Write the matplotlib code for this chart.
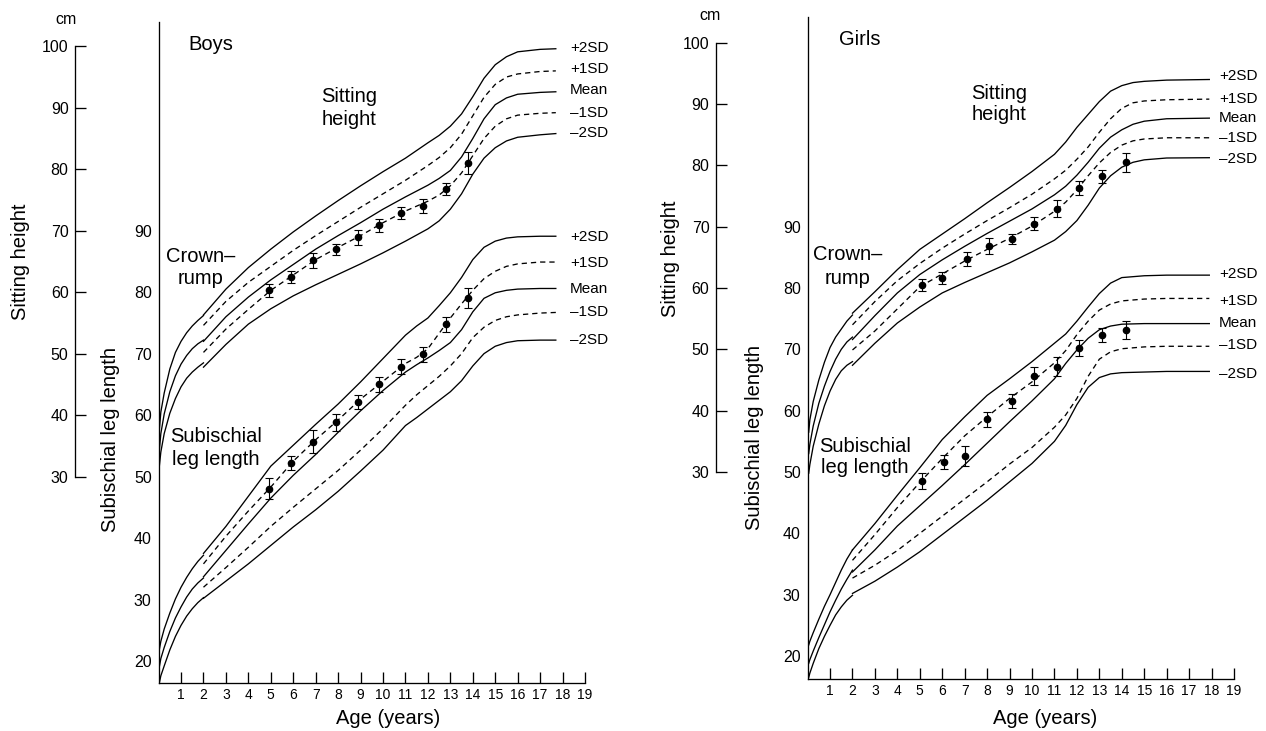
import matplotlib
matplotlib.use("Agg")
import matplotlib.pyplot as plt

plt.rcParams['font.family'] = ['Liberation Sans', 'DejaVu Sans']

W, H = 1266, 731

# ---------------- data ----------------
age_ticks = list(range(1, 20))
leg_ticks = [20, 30, 40, 50, 60, 70, 80, 90]
sh_ticks = [30, 40, 50, 60, 70, 80, 90, 100]
sd_names = ['+2SD', '+1SD', 'Mean', '–1SD', '–2SD']

# ---- Boys ----
boys_cr_age = [0.03, 0.1, 0.25, 0.5, 0.75, 1.0, 1.25, 1.5, 1.75, 2.0]
boys_cr_p2 = [37.5, 40.5, 43.6, 47.5, 50.2, 52.0, 53.4, 54.5, 55.4, 56.2]
boys_cr_mean = [34.2, 37.0, 40.2, 43.8, 46.4, 48.3, 49.7, 50.8, 51.6, 52.2]
boys_cr_m2 = [31.6, 34.0, 37.0, 40.3, 42.7, 44.6, 46.0, 47.0, 47.8, 48.5]
boys_leg0_age = [0.03, 0.1, 0.25, 0.5, 0.75, 1.0, 1.25, 1.5, 1.75, 2.0]
boys_leg0_top = [21.8, 23.2, 25.2, 27.8, 30.1, 32.0, 33.6, 35.0, 36.2, 37.2]
boys_leg0_mid = [19.0, 20.4, 22.2, 24.8, 27.0, 28.8, 30.4, 31.7, 32.7, 33.5]
boys_leg0_bot = [16.4, 17.6, 19.2, 21.8, 24.0, 25.8, 27.3, 28.5, 29.5, 30.3]

boys_sh_age = [2, 3, 4, 5, 6, 7, 8, 9, 10, 11, 12, 12.5, 13, 13.5, 14, 14.5, 15, 15.5, 16, 17, 17.7]
boys_sh_p2 = [56.3, 60.5, 64.0, 67.0, 69.8, 72.4, 74.9, 77.3, 79.6, 81.8, 84.3, 85.5, 87.0, 89.0, 91.8, 94.8, 97.0, 98.3, 99.1, 99.5, 99.6]
boys_sh_p1 = [54.6, 58.5, 61.6, 64.2, 66.8, 69.2, 71.5, 73.8, 76.0, 78.2, 80.6, 81.9, 83.5, 85.7, 88.7, 91.7, 93.8, 95.0, 95.5, 95.9, 96.0]
boys_sh_mean = [52.0, 56.0, 59.2, 62.0, 64.5, 67.0, 69.2, 71.3, 73.5, 75.5, 77.4, 78.5, 79.8, 82.0, 85.0, 88.2, 90.5, 91.6, 92.2, 92.5, 92.6]
boys_sh_m1 = [50.2, 54.0, 57.2, 60.3, 62.8, 65.3, 67.3, 69.2, 71.3, 73.2, 74.8, 75.8, 77.3, 79.4, 82.2, 85.0, 87.0, 88.2, 88.8, 89.1, 89.2]
boys_sh_m2 = [47.8, 51.5, 54.8, 57.3, 59.4, 61.2, 62.9, 64.6, 66.4, 68.3, 70.3, 71.6, 73.5, 76.0, 79.2, 81.8, 83.5, 84.6, 85.2, 85.6, 85.8]

boys_leg_age = [2, 3, 4, 5, 6, 7, 8, 9, 10, 11, 11.5, 12, 12.5, 13, 13.5, 14, 14.5, 15, 15.5, 16, 17, 17.7]
boys_leg_p2 = [37.5, 41.9, 46.8, 51.7, 55.1, 58.5, 61.8, 65.4, 69.2, 73.0, 74.5, 75.8, 77.8, 79.9, 82.4, 85.3, 87.3, 88.3, 88.8, 89.0, 89.1, 89.1]
boys_leg_p1 = [35.8, 40.3, 44.4, 48.3, 52.5, 56.0, 59.2, 62.6, 65.5, 68.4, 69.4, 70.8, 73.3, 75.8, 78.1, 80.3, 82.2, 83.4, 84.2, 84.6, 84.9, 84.9]
boys_leg_mean = [33.7, 38.0, 42.3, 46.5, 50.2, 53.6, 57.2, 60.7, 64.0, 67.0, 68.2, 69.3, 70.5, 71.8, 73.9, 76.8, 79.0, 79.9, 80.3, 80.5, 80.6, 80.6]
boys_leg_m1 = [32.0, 35.2, 38.5, 41.9, 45.0, 48.0, 51.0, 54.3, 57.8, 61.6, 63.3, 64.8, 66.3, 68.0, 70.0, 72.6, 74.3, 75.4, 76.0, 76.3, 76.6, 76.7]
boys_leg_m2 = [30.2, 33.0, 35.8, 38.8, 41.8, 44.6, 47.6, 50.9, 54.3, 58.3, 59.6, 61.0, 62.4, 63.8, 65.6, 68.0, 70.0, 71.2, 71.8, 72.1, 72.2, 72.2]

boys_obs_age = [4.9, 5.9, 6.9, 7.9, 8.9, 9.8, 10.8, 11.8, 12.8, 13.8]
boys_obs_sh = [60.3, 62.5, 65.2, 67.0, 68.9, 70.9, 72.9, 74.0, 76.8, 81.0]
boys_obs_sh_err = [1.1, 1.0, 1.2, 0.9, 1.25, 1.05, 0.95, 1.1, 1.0, 1.8]
boys_obs_leg = [48.0, 52.2, 55.7, 58.8, 62.1, 65.0, 67.9, 69.9, 74.8, 79.1]
boys_obs_leg_err = [1.7, 1.2, 1.85, 1.35, 1.1, 1.2, 1.2, 1.2, 1.2, 1.65]

# ---- Girls ----
girls_cr_age = [0.05, 0.1, 0.25, 0.5, 0.75, 1.0, 1.25, 1.5, 1.75, 2.0]
girls_cr_p2 = [36.5, 38.5, 41.5, 45.0, 47.9, 50.3, 52.0, 53.3, 54.6, 55.6]
girls_cr_mean = [33.0, 34.5, 37.5, 41.2, 44.0, 46.4, 48.4, 50.0, 51.2, 52.0]
girls_cr_m2 = [29.8, 31.2, 34.2, 37.8, 40.8, 43.2, 45.1, 46.5, 47.4, 48.0]
girls_leg0_age = [0.05, 0.1, 0.25, 0.5, 0.75, 1.0, 1.25, 1.5, 1.75, 2.0]
girls_leg0_top = [21.8, 22.4, 23.8, 26.0, 28.1, 30.0, 32.0, 34.0, 35.8, 37.3]
girls_leg0_mid = [18.8, 19.4, 20.8, 23.0, 25.1, 27.2, 29.1, 30.9, 32.5, 34.0]
girls_leg0_bot = [16.5, 17.2, 18.8, 21.2, 23.2, 25.0, 26.7, 28.0, 29.1, 29.9]

girls_sh_age = [2, 3, 4, 5, 6, 7, 8, 9, 10, 11, 11.5, 12, 12.5, 13, 13.5, 14, 14.5, 15, 16, 17.9]
girls_sh_p2 = [55.9, 59.4, 63.0, 66.3, 68.8, 71.3, 73.9, 76.4, 79.0, 81.8, 83.8, 86.2, 88.3, 90.4, 92.1, 93.0, 93.5, 93.7, 93.9, 94.0]
girls_sh_p1 = [54.0, 57.8, 61.2, 64.0, 66.5, 68.8, 71.0, 73.1, 75.3, 77.8, 79.2, 81.0, 83.0, 85.4, 87.6, 89.3, 90.2, 90.5, 90.7, 90.8]
girls_sh_mean = [51.6, 55.5, 59.2, 62.2, 64.6, 66.8, 68.9, 70.9, 72.9, 75.2, 76.6, 78.4, 80.5, 82.8, 84.6, 85.8, 86.7, 87.2, 87.6, 87.7]
girls_sh_m1 = [49.9, 53.0, 56.6, 60.2, 62.3, 64.4, 66.3, 68.1, 70.1, 72.5, 74.0, 76.0, 78.3, 80.4, 82.1, 83.3, 84.0, 84.3, 84.5, 84.5]
girls_sh_m2 = [47.4, 51.0, 54.3, 56.9, 59.2, 60.9, 62.5, 64.1, 65.9, 67.8, 69.2, 71.0, 73.5, 76.3, 78.3, 79.7, 80.5, 80.9, 81.2, 81.25]

girls_leg_age = [2, 3, 4, 5, 6, 7, 8, 9, 10, 11, 11.5, 12, 12.5, 13, 13.5, 14, 15, 16, 17.9]
girls_leg_p2 = [37.3, 41.6, 46.2, 50.7, 55.3, 59.0, 62.5, 65.2, 68.0, 71.0, 72.5, 74.6, 76.9, 79.1, 80.8, 81.7, 82.0, 82.1, 82.1]
girls_leg_p1 = [35.6, 39.8, 44.2, 48.3, 52.2, 55.9, 59.0, 62.0, 64.7, 67.8, 69.8, 72.4, 74.6, 76.4, 77.4, 77.9, 78.2, 78.3, 78.3]
girls_leg_mean = [33.7, 37.3, 41.2, 44.5, 47.8, 51.2, 54.7, 58.2, 61.6, 65.2, 67.7, 69.9, 71.8, 73.2, 73.8, 74.1, 74.2, 74.2, 74.2]
girls_leg_m1 = [32.7, 34.8, 37.2, 40.0, 42.8, 45.6, 48.4, 51.3, 54.0, 57.3, 59.3, 62.0, 65.6, 68.4, 69.6, 70.1, 70.4, 70.5, 70.5]
girls_leg_m2 = [30.2, 32.2, 34.5, 37.0, 39.8, 42.6, 45.4, 48.4, 51.4, 55.0, 57.6, 61.0, 63.8, 65.4, 66.0, 66.2, 66.3, 66.4, 66.4]

girls_obs_sh_age = [5.1, 6.0, 7.1, 8.1, 9.1, 10.1, 11.1, 12.1, 13.1, 14.2]
girls_obs_sh = [60.5, 61.6, 64.7, 66.8, 68.0, 70.5, 72.9, 76.3, 78.2, 80.5]
girls_obs_sh_err = [1.0, 1.0, 1.15, 1.3, 0.75, 1.0, 1.4, 1.2, 1.0, 1.55]
girls_obs_leg_age = [5.1, 6.1, 7.0, 8.0, 9.1, 10.1, 11.1, 12.1, 13.1, 14.2]
girls_obs_leg = [48.5, 51.6, 52.6, 58.6, 61.6, 65.6, 67.2, 70.2, 72.4, 73.2]
girls_obs_leg_err = [1.35, 1.15, 1.7, 1.2, 1.15, 1.45, 1.5, 1.25, 1.15, 1.45]

# ---------------- drawing ----------------
LW = 0.95
DASH = (0, (4, 3))
TXT = 14.5

fig = plt.figure(figsize=(W / 100, H / 100), dpi=100)


def rect(left, right, top, bottom):
    return [left / W, 1 - bottom / H, (right - left) / W, (bottom - top) / H]


def ftext(x, y, s, **kw):
    fig.text(x / W, 1 - y / H, s, **kw)


def panel(g, cr, leg0, sh, leg, obs):
    ylo, yhi = g['ylim']
    r = rect(g['x0'], g['x19'], g['top'], g['base'])
    ax = fig.add_axes(r)
    ax.set_xlim(0, 19)
    ax.set_ylim(ylo, yhi)
    ax.patch.set_visible(False)
    for s in ('top', 'right'):
        ax.spines[s].set_visible(False)
    ax.spines['left'].set_linewidth(LW)
    ax.spines['bottom'].set_linewidth(LW)
    ax.spines['bottom'].set_bounds(0, 19)
    ax.set_xticks(age_ticks)
    ax.set_xticklabels([str(a) for a in age_ticks])
    ax.tick_params(axis='x', direction='in', length=8, width=LW, labelsize=10, pad=3.5)
    ax.set_yticks(leg_ticks)
    ax.set_yticklabels([str(v) for v in leg_ticks])
    ax.tick_params(axis='y', length=0, labelsize=11.5, pad=5)

    # sitting-height scale (shifted by 20 cm relative to leg scale)
    ax_sh = fig.add_axes(r, sharex=ax)
    ax_sh.set_ylim(ylo - 20, yhi - 20)
    ax_sh.axis('off')
    ax_sh.patch.set_visible(False)

    # outer sitting height axis
    ax_o = fig.add_axes(rect(g['xo'], g['xo'] + 10, g['top'], g['base']))
    ax_o.set_ylim(ylo - 20, yhi - 20)
    ax_o.patch.set_visible(False)
    for s in ('top', 'right', 'bottom'):
        ax_o.spines[s].set_visible(False)
    ax_o.spines['left'].set_bounds(sh_ticks[0], sh_ticks[-1])
    ax_o.spines['left'].set_linewidth(LW)
    ax_o.set_xticks([])
    ax_o.set_yticks(sh_ticks)
    ax_o.set_yticklabels([str(v) for v in sh_ticks])
    ax_o.tick_params(axis='y', direction='in', length=8, width=LW, labelsize=11.5, pad=4.5)

    styles = ['-', DASH, '-', DASH, '-']
    # crown-rump (0-2 y)
    cr_age, cr_lines = cr
    for v in cr_lines:
        ax_sh.plot(cr_age, v, color='black', lw=LW)
    # leg 0-2 y
    l0_age, l0_lines = leg0
    for v in l0_lines:
        ax.plot(l0_age, v, color='black', lw=LW)
    # sitting height curves
    sh_age, sh_lines = sh
    for v, st in zip(sh_lines, styles):
        ax_sh.plot(sh_age, v, color='black', lw=LW, linestyle=st)
    # leg curves
    leg_age, leg_lines = leg
    for v, st in zip(leg_lines, styles):
        ax.plot(leg_age, v, color='black', lw=LW, linestyle=st)
    # observations
    (sa, sv, se), (la, lv, le) = obs
    ax_sh.errorbar(sa, sv, yerr=se, fmt='o', color='black', ms=4.5, elinewidth=0.8,
                   capsize=2.8, capthick=0.8)
    ax.errorbar(la, lv, yerr=le, fmt='o', color='black', ms=4.5, elinewidth=0.8,
                capsize=2.8, capthick=0.8)
    return ax


boys_geom = dict(x0=158.6, x19=585.0, top=21.7, base=683.3, ylim=(16.37, 124.0), xo=74.8)
girls_geom = dict(x0=807.6, x19=1234.0, top=16.7, base=679.3, ylim=(16.2, 124.24), xo=715.7)

panel(boys_geom,
      (boys_cr_age, [boys_cr_p2, boys_cr_mean, boys_cr_m2]),
      (boys_leg0_age, [boys_leg0_top, boys_leg0_mid, boys_leg0_bot]),
      (boys_sh_age, [boys_sh_p2, boys_sh_p1, boys_sh_mean, boys_sh_m1, boys_sh_m2]),
      (boys_leg_age, [boys_leg_p2, boys_leg_p1, boys_leg_mean, boys_leg_m1, boys_leg_m2]),
      ((boys_obs_age, boys_obs_sh, boys_obs_sh_err), (boys_obs_age, boys_obs_leg, boys_obs_leg_err)))

panel(girls_geom,
      (girls_cr_age, [girls_cr_p2, girls_cr_mean, girls_cr_m2]),
      (girls_leg0_age, [girls_leg0_top, girls_leg0_mid, girls_leg0_bot]),
      (girls_sh_age, [girls_sh_p2, girls_sh_p1, girls_sh_mean, girls_sh_m1, girls_sh_m2]),
      (girls_leg_age, [girls_leg_p2, girls_leg_p1, girls_leg_mean, girls_leg_m1, girls_leg_m2]),
      ((girls_obs_sh_age, girls_obs_sh, girls_obs_sh_err), (girls_obs_leg_age, girls_obs_leg, girls_obs_leg_err)))

# ---------------- texts ----------------
# boys
ftext(66, 19, 'cm', ha='center', va='center', fontsize=11.5)
ftext(20.4, 262, 'Sitting height', rotation=90, ha='center', va='center', fontsize=TXT)
ftext(110.4, 440, 'Subischial leg length', rotation=90, ha='center', va='center', fontsize=TXT)
ftext(387.7, 719, 'Age (years)', ha='center', va='center', fontsize=TXT)
ftext(188, 45, 'Boys', ha='left', va='center', fontsize=TXT)
ftext(349, 96.7, 'Sitting', ha='center', va='center', fontsize=TXT)
ftext(349, 119.3, 'height', ha='center', va='center', fontsize=TXT)
ftext(200.8, 256, 'Crown–', ha='center', va='center', fontsize=TXT)
ftext(200.8, 278.3, 'rump', ha='center', va='center', fontsize=TXT)
ftext(216, 436.7, 'Subischial', ha='center', va='center', fontsize=TXT)
ftext(216, 459.3, 'leg length', ha='center', va='center', fontsize=TXT)
for name, y in zip(sd_names, [48.3, 69, 90, 112.7, 133.3]):
    ftext(570, y, name, ha='left', va='center', fontsize=11)
for name, y in zip(sd_names, [236.7, 262.7, 288.7, 312, 340]):
    ftext(570, y, name, ha='left', va='center', fontsize=11)

# girls
ftext(710, 15.7, 'cm', ha='center', va='center', fontsize=11.5)
ftext(670.7, 259, 'Sitting height', rotation=90, ha='center', va='center', fontsize=TXT)
ftext(754.5, 437.5, 'Subischial leg length', rotation=90, ha='center', va='center', fontsize=TXT)
ftext(1045, 719, 'Age (years)', ha='center', va='center', fontsize=TXT)
ftext(838.7, 39.3, 'Girls', ha='left', va='center', fontsize=TXT)
ftext(998.8, 93.3, 'Sitting', ha='center', va='center', fontsize=TXT)
ftext(998.8, 115, 'height', ha='center', va='center', fontsize=TXT)
ftext(848, 255, 'Crown–', ha='center', va='center', fontsize=TXT)
ftext(848, 278.3, 'rump', ha='center', va='center', fontsize=TXT)
ftext(865, 446, 'Subischial', ha='center', va='center', fontsize=TXT)
ftext(865, 467.7, 'leg length', ha='center', va='center', fontsize=TXT)
for name, y in zip(sd_names, [76, 99.3, 118.3, 137.7, 159]):
    ftext(1219, y, name, ha='left', va='center', fontsize=11)
for name, y in zip(sd_names, [274.3, 301, 323.3, 345, 374.3]):
    ftext(1219, y, name, ha='left', va='center', fontsize=11)

fig.savefig('out.png', dpi=100)
